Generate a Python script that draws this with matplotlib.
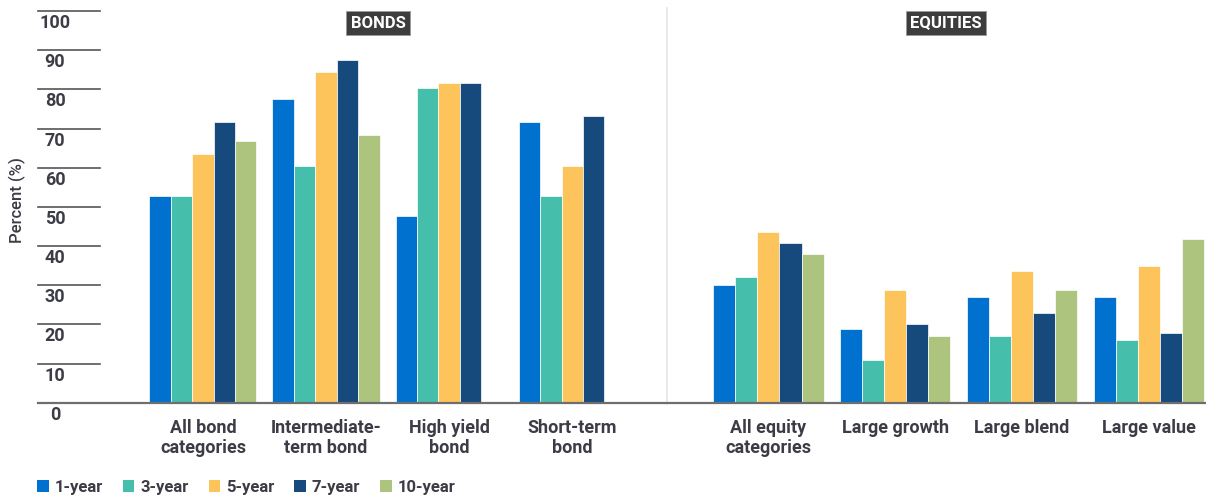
import numpy as np
import matplotlib
matplotlib.use("Agg")
import matplotlib.pyplot as plt
from matplotlib.patches import Patch

plt.rcParams['font.family'] = ['Roboto', 'DejaVu Sans']

# data
bond_categories = ["All bond\ncategories", "Intermediate-\nterm bond", "High yield\nbond", "Short-term\nbond"]
equity_categories = ["All equity\ncategories", "Large growth", "Large blend", "Large value"]
horizons = ["1-year", "3-year", "5-year", "7-year", "10-year"]
colors = ["#0071ce", "#45bfac", "#fec45c", "#174a7c", "#adc47f"]

bonds_1y = [52.7, 77.5, 47.7, 71.7]
bonds_3y = [52.7, 60.5, 80.3, 52.7]
bonds_5y = [63.4, 84.5, 81.5, 60.5]
bonds_7y = [71.7, 87.4, 81.5, 73.3]
bonds_10y = [66.7, 68.3, np.nan, np.nan]

equities_1y = [30.0, 18.8, 27.0, 27.0]
equities_3y = [32.0, 10.9, 17.1, 15.9]
equities_5y = [43.6, 28.7, 33.7, 34.9]
equities_7y = [40.8, 20.0, 22.9, 17.9]
equities_10y = [37.9, 17.1, 28.7, 41.9]

yticks = [0, 10, 20, 30, 40, 50, 60, 70, 80, 90, 100]

bonds = [bonds_1y, bonds_3y, bonds_5y, bonds_7y, bonds_10y]
equities = [equities_1y, equities_3y, equities_5y, equities_7y, equities_10y]

txt = "#3c3c46"
W, H = 1206, 498
fig = plt.figure(figsize=(W / 100, H / 100), dpi=100)

bottom = (H - 402.7) / H
height = (402.7 - 11) / H
ax1 = fig.add_axes([38 / W, bottom, (667 - 38) / W, height])
ax2 = fig.add_axes([667 / W, bottom, (W - 667) / W, height])

w = 0.174


def draw(ax, cats, series, xlim):
    x = np.arange(len(cats))
    for k, vals in enumerate(series):
        ax.bar(x + (k - 2) * w, vals, width=w, color=colors[k],
               edgecolor="#ffffff", linewidth=0.5, zorder=2)
    ax.set_xlim(*xlim)
    ax.set_ylim(0, 100)
    ax.set_xticks(x)
    ax.set_xticklabels(cats, fontsize=13, fontweight="bold", color=txt, linespacing=1.1)
    ax.tick_params(axis="x", length=0, pad=12)
    ax.set_yticks([])
    for s in ax.spines.values():
        s.set_visible(False)
    ax.axhline(0, color="#6e6e6e", lw=1.6, zorder=3, clip_on=False)


draw(ax1, bond_categories, bonds, (-1.34, 3.77))
draw(ax2, equity_categories, equities, (-0.80, 3.45))

# section headers
ax1.text((378 - 38) / (667 - 38), (402.7 - 23) / 391.7, "BONDS", transform=ax1.transAxes,
         ha="center", va="center", color="white", fontsize=12, fontweight="bold",
         bbox=dict(boxstyle="square,pad=0.28", fc="#3d3d3d", ec="#9a9a9a", lw=0.6))
ax2.text((946 - 667) / (W - 667), (402.7 - 23) / 391.7, "EQUITIES", transform=ax2.transAxes,
         ha="center", va="center", color="white", fontsize=12, fontweight="bold",
         bbox=dict(boxstyle="square,pad=0.28", fc="#3d3d3d", ec="#9a9a9a", lw=0.6))

# divider between the two sections
ax2.axvline(ax2.get_xlim()[0], ymin=0, ymax=(402.7 - 8) / 391.7, color="#e6e6e6",
            lw=1.2, clip_on=False)

# short gridlines and labels on the left
ytr = ax1.get_yaxis_transform()
glen = (100 - 38) / (667 - 38)
for t in yticks:
    ax1.plot([0, glen], [t, t], transform=ytr, color="#555555", lw=1.2, clip_on=False, zorder=1)
    ax1.annotate(str(t), xy=((55 - 38) / (667 - 38), t), xycoords=ytr,
                 xytext=(0, -3), textcoords="offset pixels", ha="center", va="top",
                 fontsize=13, fontweight="bold", color=txt, annotation_clip=False)

fig.text(17 / W, 1 - 200 / H, "Percent (%)", rotation=90, ha="center", va="center",
         fontsize=12, fontweight="medium", color=txt)

handles = [Patch(facecolor=c, edgecolor="none") for c in colors]
fig.legend(handles, horizons, loc="center left", bbox_to_anchor=(22 / W, 11 / H),
           ncol=5, frameon=False, handlelength=0.7, handleheight=0.7,
           handletextpad=0.35, columnspacing=1.2,
           prop=dict(size=12, weight="bold"), labelcolor=txt)

fig.savefig("out.png", dpi=100)
